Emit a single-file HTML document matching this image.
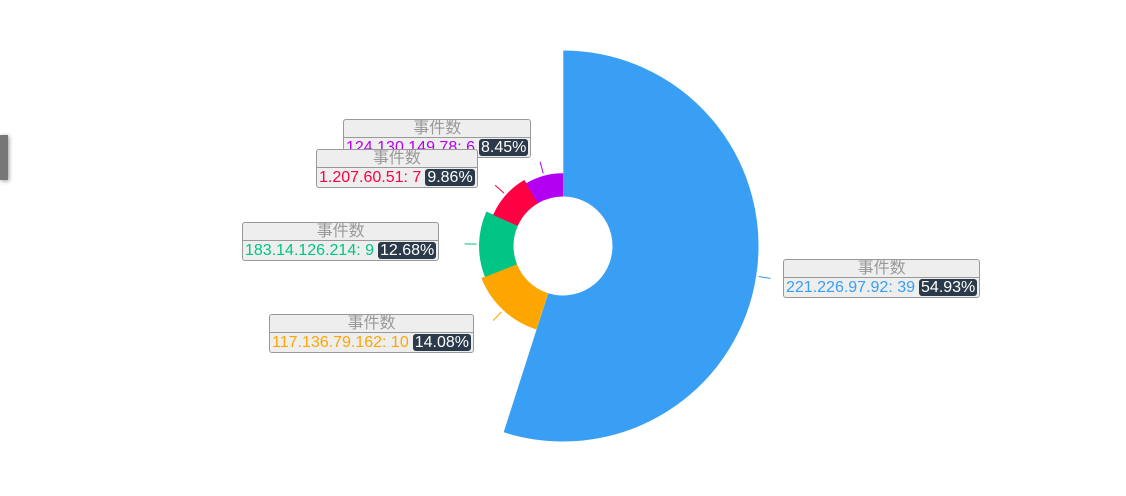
<!DOCTYPE html>
<html><head><meta charset="utf-8"><style>
body{margin:0;width:1126px;height:496px;background:#fff;overflow:hidden;position:relative;font-family:"Liberation Sans","Noto Sans CJK SC",sans-serif}
.lbl{position:absolute;background:#eee;border:1px solid #999;border-radius:3px;font-size:16px;line-height:17px;white-space:nowrap}
.lbl .t{color:#999;text-align:center;border-bottom:1px solid #999}
.lbl .v{padding:1px 2px 1px 2px}
.lbl .b{background:#2b3a4a;color:#fff;border-radius:3px;padding:0 2px;margin-left:4px}
#tab{position:absolute;left:0;top:135px;width:8px;height:45px;background:#777;box-shadow:1px 1px 4px #999}
</style></head><body>
<div id="tab"></div>
<svg id="chart" width="1126" height="496" style="position:absolute;left:0;top:0"></svg>
<div id="labels"></div>
<script>
const names=["221.226.97.92","117.136.79.162","183.14.126.214","1.207.60.51","124.130.149.78"];
const values=[39,10,9,7,6];
const percents=["54.93%","14.08%","12.68%","9.86%","8.45%"];
const colors=["#389ff4","#fda600","#00c584","#ff0043","#b300f2"];
const boxPos=[[783,259],[269,314],[242,222],[316,149],[343,119]];
const cx=563,cy=246,r0=50,r1=195;
const svg=document.getElementById('chart');
const NS="http://www.w3.org/2000/svg";
const total=values.reduce((a,b)=>a+b,0),max=Math.max(...values);
function pt(r,a){return [cx+r*Math.sin(a),cy-r*Math.cos(a)];}
let a0=0;
const order=[4,3,1,2,0];
values.forEach((v,i)=>{
  const a1=a0+v/total*Math.PI*2;
  const r=r0+(r1-r0)*v/max;
  const g=0.004;
  const p1=pt(r,a0+g),p2=pt(r,a1-g),p3=pt(r0,a1-g*r/r0),p4=pt(r0,a0+g*r/r0);
  const large=(a1-a0)>Math.PI?1:0;
  const path=document.createElementNS(NS,'path');
  path.setAttribute('d',`M${p4[0]},${p4[1]}L${p1[0]},${p1[1]}A${r},${r} 0 ${large} 1 ${p2[0]},${p2[1]}L${p3[0]},${p3[1]}A${r0},${r0} 0 ${large} 0 ${p4[0]},${p4[1]}Z`);
  path.setAttribute('fill',colors[i]);
  path.setAttribute('stroke',colors[i]);
  path.setAttribute('stroke-width','1');
  path.setAttribute('stroke-linejoin','round');
  
  
  svg.appendChild(path);
  const m=(a0+a1)/2;
  const q1=pt(r+3,m),q2=pt(r+15,m);
  const ln=document.createElementNS(NS,'line');
  ln.setAttribute('x1',q1[0]);ln.setAttribute('y1',q1[1]);ln.setAttribute('x2',q2[0]);ln.setAttribute('y2',q2[1]);
  ln.setAttribute('stroke',colors[i]);
  
  
  svg.appendChild(ln);
  a0=a1;
});
const lc=document.getElementById('labels');
order.forEach(i=>{
  const d=document.createElement('div');
  d.className='lbl';
  d.style.left=boxPos[i][0]+'px';d.style.top=boxPos[i][1]+'px';
  
  
  d.innerHTML=`<div class="t">事件数</div><div class="v" style="color:${colors[i]}">${names[i]}: ${values[i]}<span class="b">${percents[i]}</span></div>`;
  lc.appendChild(d);
});
</script>
</body></html>
